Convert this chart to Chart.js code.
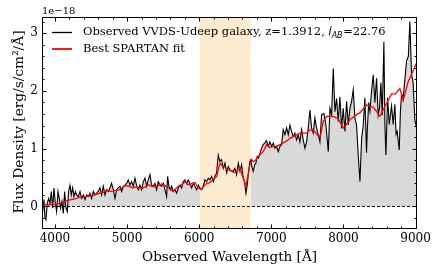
<!DOCTYPE html>
<html><head><meta charset="utf-8">
<script src="https://cdn.jsdelivr.net/npm/chart.js@4"></script>
<style>html,body{margin:0;padding:0;background:#fff}#c{display:block}</style>
</head><body>
<canvas id="c" width="436" height="276"></canvas>
<script>
// ---- data (flux in units of 1e-18 erg/s/cm^2/Å) ----
const obsWave = [3820,3829,3847,3861,3875,3894,3912,3931,3949,3968,3986,4005,4023,4042,4060,4078,4097,4115,4134,4152,4171,4189,4208,4226,4245,4263,4282,4300,4323,4347,4370,4393,4416,4439,4462,4485,4508,4531,4554,4578,4601,4624,4647,4670,4693,4716,4739,4762,4785,4809,4832,4855,4878,4901,4924,4947,4970,4993,5016,5040,5063,5086,5109,5132,5155,5178,5201,5225,5248,5271,5294,5317,5340,5363,5386,5409,5432,5456,5479,5502,5525,5548,5562,5580,5599,5617,5640,5664,5687,5710,5733,5756,5779,5802,5825,5848,5871,5895,5918,5941,5964,5987,6010,6033,6056,6079,6103,6126,6149,6172,6195,6218,6241,6264,6287,6310,6334,6357,6380,6403,6426,6449,6472,6495,6518,6542,6565,6588,6611,6629,6648,6666,6685,6703,6717,6731,6749,6768,6786,6805,6823,6842,6865,6888,6911,6934,6957,6980,7004,7027,7050,7073,7096,7119,7142,7165,7188,7212,7235,7258,7281,7304,7327,7350,7373,7396,7420,7443,7466,7489,7512,7535,7558,7581,7604,7627,7651,7674,7697,7729,7757,7790,7813,7836,7859,7882,7905,7928,7951,7974,7997,8021,8044,8067,8090,8113,8136,8159,8182,8205,8229,8252,8275,8297,8320,8330,8350,8367,8390,8413,8436,8459,8482,8500,8519,8538,8561,8575,8589,8612,8635,8667,8690,8713,8730,8745,8774,8790,8806,8830,8852,8875,8900,8921,8944,8967,8990,9014,9037];
const obsFlux = [0.06,-0.09,0.12,-0.20,-0.23,0.06,0.14,0.06,0.26,-0.03,0.32,0.06,-0.09,0.26,0.14,-0.03,0.09,-0.12,0.26,-0.03,-0.09,0.26,0.37,0.20,0.32,0.17,0.26,0.20,0.17,0.26,0.14,0.20,0.12,0.20,0.17,0.23,0.14,0.26,0.20,0.23,0.26,0.32,0.20,0.35,0.20,0.29,0.26,0.32,0.40,0.29,0.14,0.29,0.32,0.35,0.26,0.35,0.37,0.40,0.46,0.37,0.43,0.35,0.49,0.36,0.29,0.37,0.29,0.43,0.49,0.35,0.46,0.55,0.37,0.35,0.40,0.29,0.43,0.37,0.35,0.40,0.29,0.17,0.52,0.35,0.29,0.35,0.26,0.29,0.23,0.32,0.37,0.32,0.43,0.46,0.40,0.46,0.40,0.32,0.40,0.35,0.29,0.37,0.32,0.29,0.35,0.46,0.43,0.49,0.46,0.52,0.43,0.52,0.58,0.89,0.78,0.81,0.66,0.75,0.58,0.69,0.63,0.62,0.61,0.66,0.55,0.75,0.61,0.72,0.49,0.43,0.23,0.37,0.61,0.78,0.81,0.69,0.61,0.72,0.75,0.87,0.84,0.92,1.01,1.07,1.10,1.14,1.04,1.12,1.04,1.10,1.01,1.04,0.95,1.04,1.07,1.33,1.24,1.36,1.24,1.41,1.30,1.21,1.27,1.15,1.24,1.12,1.33,1.15,1.01,1.12,1.36,1.67,1.36,1.27,1.53,1.36,1.24,1.12,1.59,1.61,1.41,0.95,1.70,1.59,2.39,1.64,1.87,1.47,1.90,1.35,1.70,1.30,1.82,1.41,1.70,1.82,2.02,1.53,1.41,0.89,0.43,1.18,1.41,1.88,0.93,1.30,1.80,1.65,2.00,2.28,1.80,2.22,1.58,1.70,2.14,1.58,2.85,1.40,0.89,1.88,1.42,1.74,1.42,1.77,1.25,1.30,0.98,1.65,1.94,1.90,2.20,2.52,2.60,3.20,2.30,2.13,1.50,1.36,1.70];
const fitWave = [3820,3900,4000,4060,4120,4208,4280,4347,4420,4485,4550,4624,4680,4717,4760,4820,4901,4971,5030,5080,5110,5202,5250,5294,5340,5386,5430,5479,5530,5571,5640,5709,5760,5802,5840,5871,5920,5941,5987,6034,6070,6103,6140,6180,6242,6288,6320,6360,6403,6440,6472,6519,6540,6565,6590,6610,6630,6648,6670,6700,6727,6750,6773,6818,6888,6935,6981,7030,7073,7120,7165,7210,7258,7351,7396,7489,7535,7600,7650,7680,7720,7766,7854,7927,7997,8044,8090,8182,8228,8321,8367,8413,8460,8505,8575,8668,8720,8783,8828,8898,8991,9060];
const fitFlux = [0.03,0.03,0.04,0.05,0.08,0.115,0.13,0.16,0.17,0.185,0.20,0.23,0.25,0.28,0.26,0.27,0.29,0.36,0.35,0.32,0.34,0.31,0.34,0.375,0.35,0.34,0.36,0.39,0.36,0.32,0.26,0.35,0.38,0.43,0.38,0.38,0.41,0.415,0.32,0.30,0.36,0.40,0.41,0.45,0.52,0.75,0.70,0.68,0.635,0.62,0.59,0.60,0.64,0.66,0.56,0.49,0.42,0.35,0.50,0.70,0.81,0.78,0.79,0.865,0.95,1.07,1.02,1.04,1.04,1.07,1.10,1.13,1.18,1.24,1.27,1.27,1.33,1.30,1.22,1.22,1.47,1.56,1.56,1.52,1.36,1.42,1.50,1.59,1.62,1.76,1.73,1.72,1.64,1.56,1.73,1.95,1.95,2.04,1.83,2.16,2.42,2.60];
const zeroLine = [3820, 9020];
const bandRange = [6010, 6720];
const xMajorTicks = [4000,5000,6000,7000,8000,9000];
const yMajorTicks = [0,1,2,3];
const xRange = [3820, 9020];
const yRange = [-0.39, 3.28];
const legendLabels = ['Observed VVDS-Udeep galaxy, z=1.3912, ', 'Best SPARTAN fit'];
const xTitle = 'Observed Wavelength [Å]';
const yTitle = 'Flux Density [erg/s/cm²/Å]';
const offsetText = '1e\u221218';

const pts = (xs, ys) => xs.map((x, i) => ({x, y: ys[i]}));
const SERIF = '"DejaVu Serif", serif';
const SANS = '"DejaVu Sans", sans-serif';

function fitSize(ctx, text, family, target, style) {
  ctx.font = (style||'') + ' 20px ' + family;
  return 20 * target / ctx.measureText(text).width;
}

const decor = {
  id: 'decor',
  afterDatasetDraw(chart, args) {
    if (args.index !== 3) return;
    const {ctx, chartArea: a, scales: {x}} = chart;
    const x0 = x.getPixelForValue(bandRange[0]), x1 = x.getPixelForValue(bandRange[1]);
    ctx.save();
    ctx.fillStyle = '#fdebd0';
    ctx.fillRect(x0, a.top, x1 - x0, a.bottom - a.top);
    ctx.restore();
  },
  afterDraw(chart) {
    const {ctx, chartArea: a, scales: {x, y}} = chart;
    ctx.save();
    ctx.strokeStyle = '#000';
    ctx.lineWidth = 1;
    ctx.strokeRect(Math.round(a.left) + 0.5, Math.round(a.top) + 0.5, Math.round(a.right - a.left) - 1, Math.round(a.bottom - a.top) - 1);
    ctx.beginPath();
    for (let v = Math.ceil(xRange[0] / 200) * 200; v <= xRange[1]; v += 200) {
      const px = Math.round(x.getPixelForValue(v)) + 0.5;
      const L = (v % 1000 === 0) ? 4.5 : 2.5;
      ctx.moveTo(px, a.bottom); ctx.lineTo(px, a.bottom - L);
      ctx.moveTo(px, a.top); ctx.lineTo(px, a.top + L);
    }
    for (let k = Math.ceil(yRange[0] / 0.2); k * 0.2 <= yRange[1]; k++) {
      const v = k * 0.2;
      const py = Math.round(y.getPixelForValue(v)) + 0.5;
      const L = (k % 5 === 0) ? 4.5 : 2.5;
      ctx.moveTo(a.left, py); ctx.lineTo(a.left + L, py);
      ctx.moveTo(a.right, py); ctx.lineTo(a.right - L, py);
    }
    ctx.stroke();

    ctx.fillStyle = '#000';
    ctx.textBaseline = 'middle';
    ctx.font = '10px ' + SERIF;
    ctx.textAlign = 'left';
    ctx.fillText(offsetText, a.left, 11.5);
    ctx.textAlign = 'center';
    let s = fitSize(ctx, xTitle, SERIF, 175);
    ctx.font = s.toFixed(2) + 'px ' + SERIF;
    ctx.fillText(xTitle, 229.5, 257);
    s = fitSize(ctx, yTitle, SERIF, 183);
    ctx.save();
    ctx.translate(19, 122);
    ctx.rotate(-Math.PI / 2);
    ctx.font = s.toFixed(2) + 'px ' + SERIF;
    ctx.fillText(yTitle, 0, 0);
    ctx.restore();

    const ls = fitSize(ctx, legendLabels[1], SERIF, 102);
    const rows = [{c: '#000', w: 1.3, y: 32.5}, {c: '#ff0000', w: 1.8, y: 49}];
    rows.forEach(r => {
      ctx.beginPath(); ctx.strokeStyle = r.c; ctx.lineWidth = r.w;
      ctx.moveTo(52, r.y); ctx.lineTo(72, r.y); ctx.stroke();
    });
    ctx.textAlign = 'left';
    let tx = 83;
    ctx.font = ls.toFixed(2) + 'px ' + SERIF;
    ctx.fillText(legendLabels[0], tx, 32.5);
    tx += ctx.measureText(legendLabels[0]).width;
    ctx.font = 'italic ' + ls.toFixed(2) + 'px ' + SANS;
    ctx.fillText('i', tx, 32.5);
    tx += ctx.measureText('i').width;
    ctx.font = 'italic ' + (ls * 0.7).toFixed(2) + 'px ' + SANS;
    ctx.fillText('AB', tx, 35.5);
    tx += ctx.measureText('AB').width + 0.5;
    ctx.font = ls.toFixed(2) + 'px ' + SERIF;
    ctx.fillText('=22.76', tx, 32.5);
    ctx.fillText(legendLabels[1], 83, 49);
    ctx.restore();
  }
};

const tickFont = {family: SERIF, size: 12};
new Chart(document.getElementById('c'), {
  type: 'line',
  data: {
    datasets: [
      {label: 'fit', data: pts(fitWave, fitFlux), borderColor: '#ff0000', borderWidth: 1.3, pointRadius: 0, tension: 0, fill: false, order: 0},
      {label: 'obs', data: pts(obsWave, obsFlux), borderColor: '#000', borderWidth: 1.1, pointRadius: 0, tension: 0, fill: false, order: 1},
      {label: 'zero', data: pts(zeroLine, [0, 0]), borderColor: '#000', borderWidth: 1, borderDash: [3, 2], pointRadius: 0, fill: false, order: 2},
      {label: 'fill', data: pts(obsWave, obsFlux), borderWidth: 0, borderColor: 'rgba(0,0,0,0)', backgroundColor: '#d9d9d9', pointRadius: 0, tension: 0, fill: 'origin', order: 3}
    ]
  },
  options: {
    responsive: false,
    devicePixelRatio: 1,
    animation: false,
    events: [],
    layout: {padding: {left: 0, right: 19, top: 17, bottom: 0}},
    plugins: {legend: {display: false}, tooltip: {enabled: false}},
    scales: {
      x: {
        type: 'linear', min: xRange[0], max: xRange[1],
        grid: {display: false, drawTicks: false}, border: {display: false},
        ticks: {font: tickFont, color: '#000', padding: 3, maxRotation: 0, autoSkip: false, includeBounds: false, callback: v => String(v)},
        afterBuildTicks: s => { s.ticks = xMajorTicks.map(v => ({value: v})); },
        afterFit: s => { s.height = 47; }
      },
      y: {
        type: 'linear', min: yRange[0], max: yRange[1],
        grid: {display: false, drawTicks: false}, border: {display: false},
        ticks: {font: tickFont, color: '#000', padding: 4, includeBounds: false, callback: v => String(v)},
        afterBuildTicks: s => { s.ticks = yMajorTicks.map(v => ({value: v})); },
        afterFit: s => { s.width = 42; }
      }
    }
  },
  plugins: [decor]
});
</script>
</body></html>
